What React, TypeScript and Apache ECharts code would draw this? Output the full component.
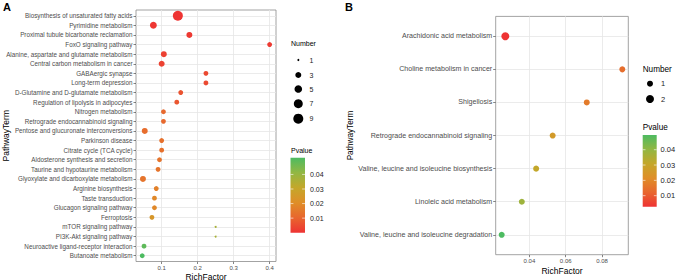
import React, { useEffect, useRef } from 'react';
import * as echarts from 'echarts';

// ---------- Panel A data ----------
const termsA = [
  'Biosynthesis of unsaturated fatty acids',
  'Pyrimidine metabolism',
  'Proximal tubule bicarbonate reclamation',
  'FoxO signaling pathway',
  'Alanine, aspartate and glutamate metabolism',
  'Central carbon metabolism in cancer',
  'GABAergic synapse',
  'Long-term depression',
  'D-Glutamine and D-glutamate metabolism',
  'Regulation of lipolysis in adipocytes',
  'Nitrogen metabolism',
  'Retrograde endocannabinoid signaling',
  'Pentose and glucuronate interconversions',
  'Parkinson disease',
  'Citrate cycle (TCA cycle)',
  'Aldosterone synthesis and secretion',
  'Taurine and hypotaurine metabolism',
  'Glyoxylate and dicarboxylate metabolism',
  'Arginine biosynthesis',
  'Taste transduction',
  'Glucagon signaling pathway',
  'Ferroptosis',
  'mTOR signaling pathway',
  'PI3K-Akt signaling pathway',
  'Neuroactive ligand-receptor interaction',
  'Butanoate metabolism',
];
const richA = [0.145, 0.077, 0.177, 0.4, 0.106, 0.1, 0.223, 0.223, 0.153, 0.142, 0.105, 0.105, 0.053, 0.1, 0.1, 0.094, 0.09, 0.048, 0.085, 0.08, 0.08, 0.073, 0.25, 0.25, 0.051, 0.046];
const countA = [9, 4, 3, 2, 3, 3, 2, 2, 2, 2, 2, 2, 3, 2, 2, 2, 2, 3, 2, 2, 2, 2, 1, 1, 2, 2];
const pvalA = [0.0002, 0.0008, 0.0012, 0.0015, 0.0028, 0.003, 0.0045, 0.0045, 0.0065, 0.007, 0.011, 0.011, 0.012, 0.013, 0.013, 0.014, 0.014, 0.014, 0.017, 0.019, 0.019, 0.024, 0.037, 0.037, 0.049, 0.0515];
const xTicksA = [0.1, 0.2, 0.3, 0.4];
const xGridA = [0.05, 0.1, 0.15, 0.2, 0.25, 0.3, 0.35, 0.4];
const sizeBreaksA = [1, 3, 5, 7, 9];

// ---------- Panel B data ----------
const termsB = [
  'Arachidonic acid metabolism',
  'Choline metabolism in cancer',
  'Shigellosis',
  'Retrograde endocannabinoid signaling',
  'Valine, leucine and isoleucine biosynthesis',
  'Linoleic acid metabolism',
  'Valine, leucine and isoleucine degradation',
];
const richB = [0.0267, 0.0912, 0.0716, 0.0528, 0.0437, 0.0358, 0.0247];
const countB = [2, 1, 1, 1, 1, 1, 1];
const pvalB = [0.0028, 0.014, 0.017, 0.026, 0.031, 0.038, 0.0496];
const xTicksB = [0.04, 0.06, 0.08];
const xGridB = [0.03, 0.04, 0.05, 0.06, 0.07, 0.08, 0.09];
const sizeBreaksB = [1, 2];

const pTicks = [0.01, 0.02, 0.03, 0.04];

// ---------- styling ----------
const FONT = '"Liberation Sans", Arial, Helvetica, sans-serif';
const TEXT = '#4d4d4d';
const GRID = '#e6e6e6';
const COLOR_STOPS = ['#EE3333', '#E8662E', '#DF8E28', '#C4A72A', '#92B743', '#4DBB61'];

const sizeA = (n: number) => 2 + 8 * Math.sqrt((n - 1) / 8);
const sizeB = (n: number) => 6 + 2 * (n - 1);

const pMinA = Math.min(0, ...pvalA);
const pMaxA = Math.max(...pvalA);
const pMinB = Math.min(...pvalB);
const pMaxB = Math.max(...pvalB);

function panelAxes(
  gridIndex: number,
  terms: string[],
  xMin: number,
  xMax: number,
  xTicks: number[],
  xGrid: number[],
  yFont: number,
  xFont: number,
) {
  const idx = terms.map((_, i) => i);
  const xAxis = {
    type: 'value',
    gridIndex,
    position: 'bottom',
    min: xMin,
    max: xMax,
    axisLine: { show: false, onZero: false },
    axisTick: { show: true, length: 2.5, lineStyle: { color: '#333', width: 0.6 }, customValues: xTicks },
    axisLabel: {
      customValues: xTicks,
      formatter: (v: number) => String(+v.toFixed(3)),
      fontSize: xFont,
      color: TEXT,
      margin: 3.5,
      fontFamily: FONT,
    },
    splitLine: { show: true, lineStyle: { color: GRID, width: 0.8 }, customValues: xGrid },
  };
  const yAxis = {
    type: 'value',
    gridIndex,
    position: 'left',
    inverse: true,
    min: -0.6,
    max: terms.length - 1 + 0.6,
    axisLine: { show: false, onZero: false },
    axisTick: { show: true, length: 2.5, lineStyle: { color: '#333', width: 0.6 }, customValues: idx },
    axisLabel: {
      customValues: idx,
      formatter: (v: number) => terms[Math.round(v)] ?? '',
      fontSize: yFont,
      color: TEXT,
      margin: 3.5,
      fontFamily: FONT,
    },
    splitLine: { show: true, lineStyle: { color: GRID, width: 0.8 }, customValues: idx },
  };
  return { xAxis, yAxis };
}

function colorbar(x: number, y: number, w: number, h: number, pMin: number, pMax: number, font: number, labelX: number) {
  const els: any[] = [];
  els.push({
    type: 'rect',
    shape: { x, y, width: w, height: h },
    style: {
      fill: new echarts.graphic.LinearGradient(
        0, 1, 0, 0,
        COLOR_STOPS.map((c, i) => ({ offset: i / (COLOR_STOPS.length - 1), color: c })),
      ),
    },
  });
  pTicks.forEach((p) => {
    const py = y + ((pMax - p) / (pMax - pMin)) * h;
    els.push({ type: 'line', shape: { x1: x, y1: py, x2: x + w * 0.2, y2: py }, style: { stroke: '#fff', lineWidth: 0.6 } });
    els.push({ type: 'line', shape: { x1: x + w * 0.8, y1: py, x2: x + w, y2: py }, style: { stroke: '#fff', lineWidth: 0.6 } });
    els.push({
      type: 'text',
      x: labelX,
      y: py,
      style: { text: String(p), fontSize: font, fill: '#222', fontFamily: FONT, verticalAlign: 'middle', align: 'left' },
    });
  });
  return els;
}

export default function App() {
  const ref = useRef<HTMLDivElement>(null);
  useEffect(() => {
    document.body.style.margin = '0';
    if (!ref.current) return;
    const chart = echarts.init(ref.current, undefined, { renderer: 'svg' });

    const gA = { left: 136, top: 10, width: 140, height: 251.5 };
    const gB = { left: 495.7, top: 16.4, width: 132.6, height: 238.3 };

    const a = panelAxes(0, termsA, 0.0287, 0.4177, xTicksA, xGridA, 6.3, 6);
    const b = panelAxes(1, termsB, 0.0214, 0.0945, xTicksB, xGridB, 7.1, 6);

    const graphic: any[] = [];
    graphic.push({ type: 'text', x: 3, y: 1, style: { text: 'A', fontSize: 11, fontWeight: 'bold', fill: '#000', fontFamily: FONT } });
    graphic.push({ type: 'text', x: 345, y: 1, style: { text: 'B', fontSize: 11, fontWeight: 'bold', fill: '#000', fontFamily: FONT } });
    const titleStyle = { fontSize: 8.5, fill: '#000', fontFamily: FONT, align: 'center', verticalAlign: 'middle' };
    graphic.push({ type: 'text', x: gA.left + gA.width / 2, y: 276.5, style: { ...titleStyle, text: 'RichFactor' } });
    graphic.push({ type: 'text', x: gB.left + gB.width / 2, y: 271, style: { ...titleStyle, text: 'RichFactor' } });
    graphic.push({ type: 'text', x: 5.5, y: gA.top + gA.height / 2, rotation: Math.PI / 2, style: { ...titleStyle, text: 'PathwayTerm' } });
    graphic.push({ type: 'text', x: 350, y: gB.top + gB.height / 2, rotation: Math.PI / 2, style: { ...titleStyle, text: 'PathwayTerm', fontSize: 8.2 } });

    graphic.push({ type: 'text', x: 291, y: 43.7, style: { text: 'Number', fontSize: 7, fill: '#000', fontFamily: FONT, verticalAlign: 'middle' } });
    const legYA = [60, 75, 89, 103.7, 118.7];
    sizeBreaksA.forEach((n, i) => {
      graphic.push({ type: 'circle', shape: { cx: 298.3, cy: legYA[i], r: sizeA(n) / 2 }, style: { fill: '#000' } });
      graphic.push({ type: 'text', x: 309.5, y: legYA[i], style: { text: String(n), fontSize: 7, fill: '#222', fontFamily: FONT, verticalAlign: 'middle' } });
    });
    graphic.push({ type: 'text', x: 291, y: 150, style: { text: 'Pvalue', fontSize: 7, fill: '#000', fontFamily: FONT, verticalAlign: 'middle' } });
    graphic.push(...colorbar(290.5, 157.7, 14.5, 75, pMinA, pMaxA, 7, 310));

    graphic.push({ type: 'text', x: 642.7, y: 69, style: { text: 'Number', fontSize: 8.2, fill: '#000', fontFamily: FONT, verticalAlign: 'middle' } });
    const legYB = [83.7, 99];
    sizeBreaksB.forEach((n, i) => {
      graphic.push({ type: 'circle', shape: { cx: 650, cy: legYB[i], r: sizeB(n) / 2 }, style: { fill: '#000' } });
      graphic.push({ type: 'text', x: 661, y: legYB[i], style: { text: String(n), fontSize: 7.5, fill: '#222', fontFamily: FONT, verticalAlign: 'middle' } });
    });
    graphic.push({ type: 'text', x: 642.7, y: 127.7, style: { text: 'Pvalue', fontSize: 8.2, fill: '#000', fontFamily: FONT, verticalAlign: 'middle' } });
    graphic.push(...colorbar(642.7, 135, 14, 71.7, pMinB, pMaxB, 7.5, 660.5));

    chart.setOption({
      animation: false,
      backgroundColor: '#fff',
      textStyle: { fontFamily: FONT },
      grid: [
        { ...gA, show: true, borderColor: '#8c8c8c', borderWidth: 0.8, backgroundColor: '#fff', containLabel: false },
        { ...gB, show: true, borderColor: '#8c8c8c', borderWidth: 0.8, backgroundColor: '#fff', containLabel: false },
      ],
      xAxis: [a.xAxis, b.xAxis],
      yAxis: [a.yAxis, b.yAxis],
      visualMap: [
        { type: 'continuous', show: false, seriesIndex: 0, dimension: 2, min: pMinA, max: pMaxA, inRange: { color: COLOR_STOPS } },
        { type: 'continuous', show: false, seriesIndex: 1, dimension: 2, min: pMinB, max: pMaxB, inRange: { color: COLOR_STOPS } },
      ],
      series: [
        {
          type: 'scatter',
          xAxisIndex: 0,
          yAxisIndex: 0,
          data: termsA.map((_, i) => [richA[i], i, pvalA[i], countA[i]]),
          symbolSize: (v: number[]) => sizeA(v[3]),
          itemStyle: { opacity: 1 },
        },
        {
          type: 'scatter',
          xAxisIndex: 1,
          yAxisIndex: 1,
          data: termsB.map((_, i) => [richB[i], i, pvalB[i], countB[i]]),
          symbolSize: (v: number[]) => sizeB(v[3]),
          itemStyle: { opacity: 1 },
        },
      ],
      graphic,
    });
    return () => chart.dispose();
  }, []);
  return <div ref={ref} style={{ width: 677, height: 280 }} />;
}
